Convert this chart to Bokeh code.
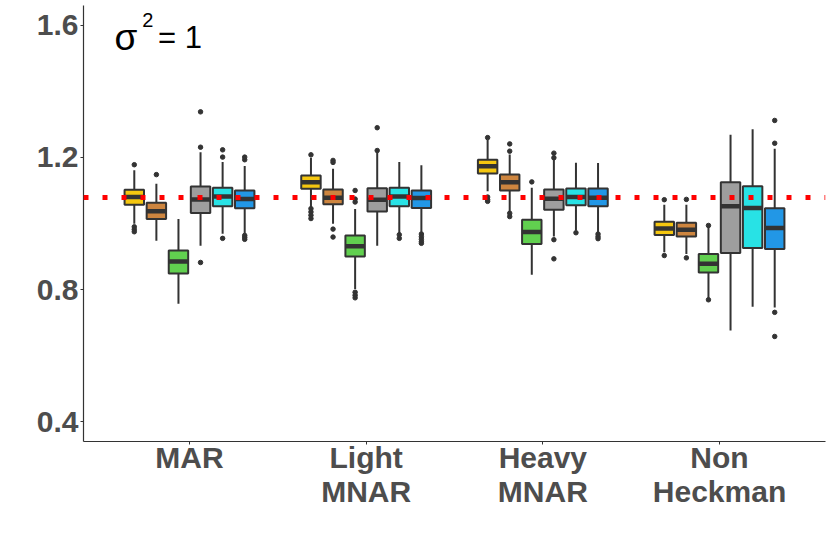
from bokeh.plotting import figure
from bokeh.models import ColumnDataSource, Range1d, FixedTicker, Span, Label
from bokeh.embed import file_html
from bokeh.resources import INLINE

categories = ["MAR", "Light\nMNAR", "Heavy\nMNAR", "Non\nHeckman"]
methods = ["M1", "M2", "M3", "M4", "M5", "M6"]
colors = ["#F5C710", "#CD853F", "#61D04F", "#9E9E9E", "#28E2E5", "#2297E6"]

# per group: six methods
lower = [
    [0.999, 0.948, 0.757, 0.933, 0.969, 0.969],
    [1.049, 0.999, 0.802, 0.933, 0.971, 0.974],
    [1.098, 1.034, 0.845, 0.961, 0.979, 0.974],
    [0.913, 0.908, 0.772, 0.676, 0.748, 0.746],
]
q1 = [
    [1.057, 1.014, 0.849, 1.032, 1.052, 1.046],
    [1.105, 1.058, 0.900, 1.036, 1.052, 1.047],
    [1.151, 1.100, 0.938, 1.042, 1.055, 1.052],
    [0.965, 0.961, 0.852, 0.911, 0.926, 0.923],
]
median = [
    [1.080, 1.037, 0.885, 1.073, 1.082, 1.074],
    [1.125, 1.078, 0.931, 1.072, 1.082, 1.077],
    [1.173, 1.125, 0.974, 1.075, 1.080, 1.078],
    [0.985, 0.981, 0.878, 1.052, 1.047, 0.986],
]
q3 = [
    [1.102, 1.063, 0.918, 1.112, 1.108, 1.100],
    [1.145, 1.103, 0.964, 1.107, 1.108, 1.100],
    [1.193, 1.148, 1.011, 1.103, 1.106, 1.106],
    [1.005, 1.002, 0.908, 1.125, 1.113, 1.046],
]
upper = [
    [1.161, 1.120, 1.014, 1.216, 1.186, 1.174],
    [1.199, 1.166, 1.044, 1.216, 1.186, 1.176],
    [1.254, 1.209, 1.108, 1.195, 1.184, 1.183],
    [1.057, 1.057, 0.991, 1.269, 1.285, 1.226],
]
outliers = [
    [[1.178, 0.990, 0.982, 0.975], [1.148], [], [1.231, 1.338, 0.882],
     [1.201, 1.223, 0.955], [1.193, 1.201, 0.964, 0.958, 0.952]],
    [[1.208, 1.045, 1.035, 1.025, 1.015], [1.191, 1.185, 0.983, 0.959],
     [1.065, 1.074, 1.100, 0.792, 0.783, 0.775], [1.221, 1.290],
     [0.966, 0.955], [0.968, 0.960, 0.952, 0.945, 0.940]],
    [[1.260, 1.080, 1.072, 1.067], [1.219, 1.241, 1.031, 1.021], [1.126],
     [1.199, 1.213, 0.951, 0.893], [0.972], [0.968, 0.960, 0.954]],
    [[1.072, 0.903], [1.073, 0.896], [0.994, 0.769], [], [],
     [1.243, 1.312, 0.731, 0.658]],
]
reference_value = 1.079
y_ticks = [0.4, 0.8, 1.2, 1.6]

dodge = 0.125
box_w = 0.11

bx, bl, bq1, bmed, bq3, bu, bcol = [], [], [], [], [], [], []
ox, oy = [], []
for g in range(len(categories)):
    for j in range(len(methods)):
        x = (g + 1) + (j - 2.5) * dodge
        bx.append(x)
        bl.append(lower[g][j]); bq1.append(q1[g][j]); bmed.append(median[g][j])
        bq3.append(q3[g][j]); bu.append(upper[g][j]); bcol.append(colors[j])
        for v in outliers[g][j]:
            ox.append(x); oy.append(v)

src = ColumnDataSource(dict(
    x=bx, left=[x - box_w / 2 for x in bx], right=[x + box_w / 2 for x in bx],
    lower=bl, q1=bq1, med=bmed, q3=bq3, upper=bu, color=bcol))
osrc = ColumnDataSource(dict(x=ox, y=oy))

p = figure(width=828, height=540, output_backend="svg", toolbar_location=None,
           x_range=Range1d(0.4, 4.6), y_range=Range1d(0.34, 1.66),
           min_border_left=83, min_border_right=3, min_border_top=5,
           min_border_bottom=99)
p.outline_line_color = None
p.xgrid.visible = False
p.ygrid.visible = False
p.background_fill_color = "white"

dark = "#333333"
p.segment(x0="x", y0="lower", x1="x", y1="q1", source=src, line_color=dark, line_width=2)
p.segment(x0="x", y0="q3", x1="x", y1="upper", source=src, line_color=dark, line_width=2)
p.quad(left="left", right="right", bottom="q1", top="q3", source=src,
       fill_color="color", line_color=dark, line_width=2)
p.segment(x0="left", y0="med", x1="right", y1="med", source=src,
          line_color=dark, line_width=4.5)
p.scatter(x="x", y="y", source=osrc, size=4.5, color=dark)

p.add_layout(Span(location=reference_value, dimension="width", line_color="red",
                  line_width=5, line_dash="5 14"))

font = "Liberation Sans"
for ax in (p.xaxis[0], p.yaxis[0]):
    ax.axis_line_color = "#333333"
    ax.axis_line_width = 1.2
    ax.major_tick_line_color = "#333333"
    ax.major_tick_in = 0
    ax.major_tick_out = 3
    ax.minor_tick_line_color = None
    ax.major_label_text_font = font
    ax.major_label_text_font_style = "bold"
    ax.major_label_text_color = "#4D4D4D"
    ax.major_label_text_font_size = "30px"

p.xaxis.ticker = FixedTicker(ticks=[1, 2, 3, 4])
p.xaxis.major_label_overrides = {i + 1: c for i, c in enumerate(categories)}
p.xaxis.major_label_standoff = -4
p.xaxis[0].major_label_text_line_height = 1.05

p.yaxis.ticker = FixedTicker(ticks=y_ticks)
p.yaxis.major_label_overrides = {t: f"{t:.1f}" for t in y_ticks}
p.yaxis.major_label_standoff = 2

p.add_layout(Label(x=0.575, y=1.5636, text="σ", text_font=font,
                   text_font_size="37px", text_color="black", text_baseline="alphabetic"))
p.add_layout(Label(x=0.733, y=1.615, text="2", text_font=font,
                   text_font_size="20px", text_color="black", text_baseline="alphabetic"))
p.add_layout(Label(x=0.822, y=1.5636, text="= 1", text_font=font,
                   text_font_size="31px", text_color="black", text_baseline="alphabetic"))

open("out.html", "w").write(file_html(p, INLINE))
